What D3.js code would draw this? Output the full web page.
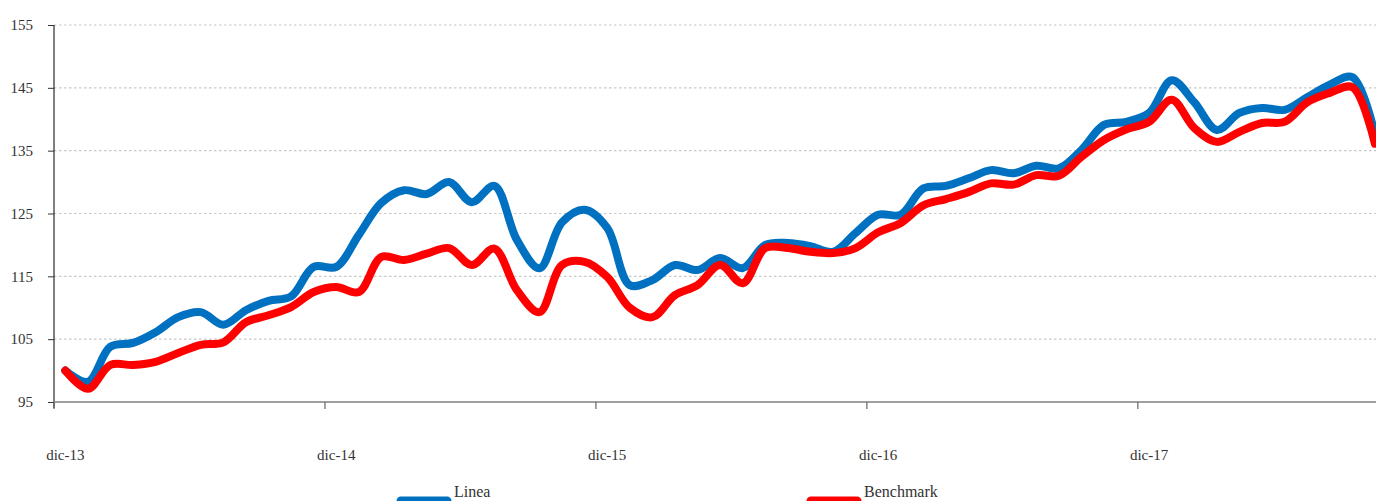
<!DOCTYPE html>
<html>
<head>
<meta charset="utf-8">
<script src="https://cdn.jsdelivr.net/npm/d3@7"></script>
<style>
  body { margin: 0; background: #fff; }
  svg { display: block; }
  svg text { font-family: "Liberation Serif", "DejaVu Serif", serif !important; fill: #333; }
</style>
</head>
<body>
<div id="chart"></div>
<script>
// monthly index values, dic-13 .. oct-18
let linea = [
  100, 98.2, 103.8, 104.4, 106.1, 108.5, 109.3, 107.3, 109.6, 111.1, 111.8, 116.5,
  116.5, 121.6, 126.7, 128.7, 128.1, 130.0, 126.8, 129.4, 120.8, 116.3, 123.6, 125.6,
  122.7, 113.6, 114.4, 116.8, 116.0, 117.9, 116.3, 120.0, 120.3, 119.8, 118.9, 121.9,
  124.8, 124.8, 129.0, 129.4, 130.6, 131.9, 131.4, 132.6, 132.2, 135.1, 139.1, 139.6,
  141.0, 146.2, 142.7, 138.3, 141.0, 141.8, 141.5, 143.5, 145.5, 146.7, 137.6
];
let benchmark = [
  100, 97.1, 100.9, 100.9, 101.4, 102.8, 104.1, 104.5, 107.7, 108.8, 110.1, 112.5,
  113.3, 112.5, 118.1, 117.6, 118.6, 119.5, 116.8, 119.4, 112.8, 109.3, 116.8, 117.3,
  114.9, 110.0, 108.5, 112.0, 113.6, 116.8, 113.9, 119.5, 119.5, 118.9, 118.7, 119.5,
  122.0, 123.5, 126.3, 127.3, 128.4, 129.8, 129.6, 131.1, 131.0, 134.0, 136.7, 138.4,
  139.6, 143.1, 138.6, 136.4, 138.0, 139.4, 139.6, 142.7, 144.2, 145.1, 136.1
];
let xLabels = ['dic-13', 'dic-14', 'dic-15', 'dic-16', 'dic-17'];
let yTicks = [95, 105, 115, 125, 135, 145, 155];

let width = 1376, height = 501;
let font = '"Liberation Serif", "DejaVu Serif", serif';
let svg = d3.select('#chart').append('svg').attr('width', width).attr('height', height);

let months = d3.range(linea.length);
// category axis: the plot runs a little past the right edge of the picture
let x = d3.scaleBand().domain(months).range([54, 54 + 22.58 * months.length]);
let y = d3.scaleLinear().domain([95, 155]).range([402, 25]);
let cx = i => x(i) + x.bandwidth() / 2;

// dotted grid
svg.append('g').selectAll('line')
  .data(yTicks.slice(1))
  .join('line')
  .attr('x1', 54).attr('x2', width)
  .attr('y1', d => y(d)).attr('y2', d => y(d))
  .attr('stroke', '#c8c8c8').attr('stroke-width', 1.2)
  .attr('stroke-dasharray', '2.5,2.5');

// y axis
let yAxis = svg.append('g')
  .attr('transform', 'translate(54,0)')
  .attr('font-family', font)
  .call(d3.axisLeft(y).tickValues(yTicks).tickSize(6).tickPadding(15));
yAxis.attr('font-family', font);
yAxis.select('.domain').attr('d', `M0,${y(155)}V408`).attr('stroke', '#000');
yAxis.selectAll('.tick line').attr('stroke', '#333');
yAxis.selectAll('text').style('font-size', '15px').attr('fill', '#333')
  .style('font-family', font);

// x axis
svg.append('line')
  .attr('x1', 54).attr('x2', width)
  .attr('y1', y(95)).attr('y2', y(95))
  .attr('stroke', '#808080').attr('stroke-width', 1.5);

let yearStarts = months.filter(i => i % 12 === 0);
svg.append('g').selectAll('line')
  .data(yearStarts)
  .join('line')
  .attr('x1', d => x(d)).attr('x2', d => x(d))
  .attr('y1', y(95)).attr('y2', y(95) + 7)
  .attr('stroke', '#666').attr('stroke-width', 1.2);

svg.append('g').selectAll('text')
  .data(yearStarts)
  .join('text')
  .attr('x', d => cx(d))
  .attr('y', 460)
  .attr('text-anchor', 'middle')
  .style('font-family', font)
  .style('font-size', '15px')
  .text((d, i) => xLabels[i]);

// lines
let line = d3.line()
  .x((d, i) => cx(i))
  .y(d => y(d))
  .curve(d3.curveCatmullRom.alpha(0.5));

let series = [
  {name: 'Linea', values: linea, color: '#0070C0', lx: 397},
  {name: 'Benchmark', values: benchmark, color: '#FF0000', lx: 807}
];

svg.append('g').selectAll('path')
  .data(series)
  .join('path')
  .attr('d', d => line(d.values))
  .attr('fill', 'none')
  .attr('stroke', d => d.color)
  .attr('stroke-width', 8)
  .attr('stroke-linejoin', 'round')
  .attr('stroke-linecap', 'round');

// legend
let legend = svg.append('g').selectAll('g')
  .data(series)
  .join('g');
legend.append('line')
  .attr('x1', d => d.lx + 4).attr('x2', d => d.lx + 50)
  .attr('y1', 501).attr('y2', 501)
  .attr('stroke', d => d.color)
  .attr('stroke-width', 9)
  .attr('stroke-linecap', 'round');
legend.append('text')
  .attr('x', d => d.lx + 57)
  .attr('y', 497)
  .style('font-family', font)
  .style('font-size', '16px')
  .text(d => d.name);
</script>
</body>
</html>
